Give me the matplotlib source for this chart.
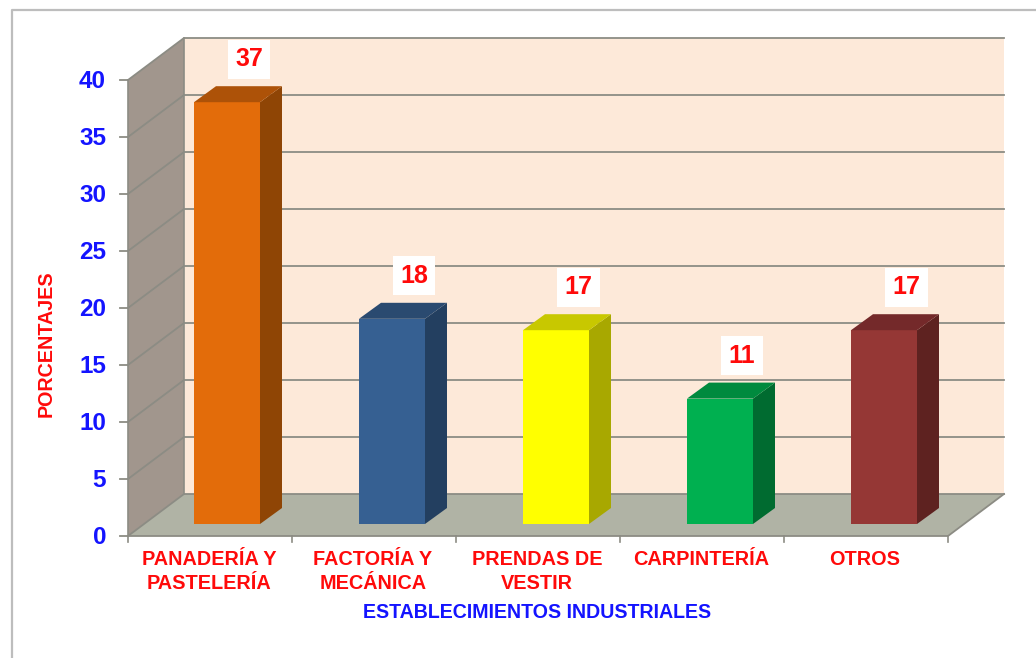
import matplotlib
matplotlib.use("Agg")
import matplotlib.pyplot as plt
from matplotlib.patches import Polygon, Rectangle

categories = ["PANADERÍA Y\nPASTELERÍA", "FACTORÍA Y\nMECÁNICA", "PRENDAS DE\nVESTIR", "CARPINTERÍA", "OTROS"]
values = [37, 18, 17, 11, 17]
labels = ["37", "18", "17", "11", "17"]
front = ["#E36C0A", "#366092", "#FFFF00", "#00B050", "#953735"]
side = ["#8F4505", "#233F60", "#A8A800", "#006B30", "#5E2220"]
top = ["#AD5208", "#2A4A70", "#C8C800", "#008A3E", "#74292A"]
yticks = [0, 5, 10, 15, 20, 25, 30, 35, 40]

W, H = 1036, 658
BLUE = "#1414FF"
RED = "#FF0A0A"
GRID = "#8C8C84"
plt.rcParams['font.family'] = ['Liberation Sans', 'DejaVu Sans']
fig = plt.figure(figsize=(W/100, H/100), dpi=100, facecolor="white")
ax = fig.add_axes([0, 0, 1, 1])
ax.set_xlim(0, W); ax.set_ylim(H, 0); ax.axis("off")

# outer frame
ax.plot([12, 12, 1036], [658, 10, 10], color="#BDBDBD", lw=1.6)

# scale
x0, y0 = 128, 536
unit = 11.4
dx, dy = 56, -42
right = 1004
front_right = 948
def Y(v): return y0 - v * unit

# back wall, side wall, floor
ax.add_patch(Polygon([(x0+dx, Y(40)+dy), (right, Y(40)+dy), (right, y0+dy), (x0+dx, y0+dy)], fc="#FDE9D9", ec="none"))
ax.add_patch(Polygon([(x0, Y(40)), (x0+dx, Y(40)+dy), (x0+dx, y0+dy), (x0, y0)], fc="#A1968D", ec="none"))
ax.add_patch(Polygon([(x0, y0), (x0+dx, y0+dy), (right, y0+dy), (front_right, y0)], fc="#B0B3A5", ec="none"))

# gridlines
for t in yticks:
    ax.plot([x0, x0+dx, right], [Y(t), Y(t)+dy, Y(t)+dy], color=GRID, lw=1.3, zorder=2)
ax.plot([x0, x0], [Y(40), y0], color=GRID, lw=1.2, zorder=2)
ax.plot([x0+dx, x0+dx], [Y(40)+dy, y0+dy], color=GRID, lw=1.2, zorder=2)
ax.plot([x0, front_right, right], [y0, y0, y0+dy], color=GRID, lw=1.3, zorder=2)

# y ticks and labels
for t in yticks:
    ax.plot([x0-8, x0], [Y(t), Y(t)], color=GRID, lw=1.3, zorder=2)
    ax.text(106, Y(t)+1.5, str(t), color=BLUE, fontsize=17.5, fontweight="bold", ha="right", va="center")

# x ticks
step = (front_right - x0) / 5
for i in range(6):
    ax.plot([x0+i*step]*2, [y0, y0+6], color=GRID, lw=1.2, zorder=2)

# bars
bar_w, bdx, bdy = 66, 22, -16
base_y = 524
lefts = [194, 359, 523, 687, 851]
for i, v in enumerate(values):
    l = lefts[i]
    ty = base_y - v * unit
    ax.add_patch(Rectangle((l, ty), bar_w, base_y - ty, fc=front[i], ec="none", zorder=3))
    ax.add_patch(Polygon([(l+bar_w, ty), (l+bar_w+bdx, ty+bdy), (l+bar_w+bdx, base_y+bdy), (l+bar_w, base_y)], fc=side[i], ec="none", zorder=3))
    ax.add_patch(Polygon([(l, ty), (l+bdx, ty+bdy), (l+bar_w+bdx, ty+bdy), (l+bar_w, ty)], fc=top[i], ec="none", zorder=3))
    ax.text(l + bar_w/2 + 22, ty + bdy - 27, labels[i], color=RED, fontsize=18, fontweight="bold",
            ha="center", va="center", zorder=4, bbox=dict(fc="white", ec="none", boxstyle="square,pad=0.3"))

# category labels
centers = [209, 373, 537, 701, 865]
for c, cat in zip(centers, categories):
    ax.text(c, 550, cat, color=RED, fontsize=14.3, fontweight="bold", ha="center", va="top", linespacing=1.33)

ax.text(537, 612, "ESTABLECIMIENTOS INDUSTRIALES", color=BLUE, fontsize=14.1, fontweight="bold", ha="center", va="center")
ax.text(46, 344, "PORCENTAJES", color=RED, fontsize=14.2, fontweight="bold", rotation=90, ha="center", va="center")

fig.savefig("out.png", dpi=100)
